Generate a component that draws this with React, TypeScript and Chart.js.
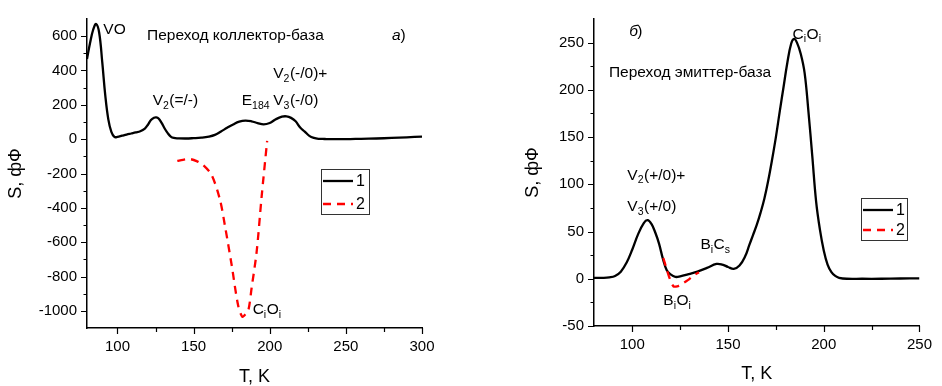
import React, { useEffect, useRef } from 'react';
import { Chart, registerables } from 'chart.js';

Chart.register(...registerables);

const FONT = "'Liberation Sans', Arial, Helvetica, sans-serif";

// ---------- Panel а) : collector-base junction ----------
const leftT1 = [80, 82, 84, 86, 88, 90, 92, 94, 96, 98, 100, 103, 106, 109, 112, 115, 118, 120, 122, 124, 125.5, 127, 129, 131, 133, 135, 137, 140, 145, 150, 155, 160, 164, 168, 172, 176, 180, 184, 188, 192, 196, 200, 204, 208, 211, 214, 217, 220, 223, 226, 229, 232, 236, 240, 250, 260, 270, 280, 290, 300];
const leftS1 = [467, 560, 636, 671, 620, 450, 255, 115, 42, 13, 13, 20, 27, 33, 39, 46, 62, 84, 112, 125, 127, 120, 95, 62, 35, 15, 7, 5, 4, 6, 9, 15, 25, 45, 66, 86, 102, 108, 104, 94, 86, 94, 116, 131, 133, 124, 104, 68, 44, 19, 7, 2, 1, 0, 0, 2, 4, 7, 11, 15];
const leftT2 = [139.3, 143, 147.6, 152, 156.4, 161.9, 167.3, 170.6, 175, 179.3, 182, 184, 186, 188.1, 191.4, 194.7, 198.3];
const leftS2 = [-127, -120, -116, -128, -152, -210, -352, -505, -733, -971, -1034, -1020, -995, -867, -657, -333, -10];
const leftXTicks = [100, 150, 200, 250, 300];
const leftXMinor = [125, 175, 225, 275];
const leftYTicks = [-1000, -800, -600, -400, -200, 0, 200, 400, 600];
const leftYMinor = [-900, -700, -500, -300, -100, 100, 300, 500];

// ---------- Panel б) : emitter-base junction ----------
const rightT1 = [80, 85, 88, 91, 94, 97, 100, 103, 106, 108, 110, 112, 114, 116, 118, 120, 122.5, 125, 129, 134, 139, 144, 147, 150, 153, 156, 159, 161, 163, 165, 167, 169, 171, 173, 175, 177, 179, 181, 183, 184.5, 186, 188, 190, 192, 194, 196, 198, 200, 202, 204, 206, 208, 212, 220, 230, 240, 250];
const rightS1 = [1, 1, 1.5, 3, 7.5, 17, 31, 47, 59, 62, 58, 49, 37, 21, 9, 4.6, 2, 2.5, 4.6, 7.6, 11.5, 15.7, 15, 12.5, 10.5, 14, 24, 35, 46, 57, 70, 85, 104, 126, 150, 177, 203, 229, 249, 254, 250, 238, 218, 177, 130, 82, 52, 30, 15, 7, 3, 1, 0, 0, 0, 0.3, 0.5];
const rightT2 = [116.2, 118, 119.6, 121.5, 123.5, 125.5, 129, 132, 134.8];
const rightS2 = [22, 10, 0, -8, -8, -6, -1.5, 3.5, 7];
const rightXTicks = [100, 150, 200, 250];
const rightXMinor = [125, 175, 225];
const rightYTicks = [-50, 0, 50, 100, 150, 200, 250];
const rightYMinor = [-25, 25, 75, 125, 175, 225];

type Part = [string, boolean?];
type Note = { x: number; y: number; parts: Part[]; italic?: boolean };

const leftNotes: Note[] = [
  { x: 90.7, y: 638, parts: [['VO']] },
  { x: 119.4, y: 600, parts: [['Переход коллектор-база']] },
  { x: 280.3, y: 600, parts: [['а']], italic: true },
  { x: 285.8, y: 600, parts: [[')']] },
  { x: 123.1, y: 223, parts: [['V'], ['2', true], ['(=/-)']] },
  { x: 181.6, y: 223, parts: [['E'], ['184', true]] },
  { x: 202.3, y: 223, parts: [['V'], ['3', true], ['(-/0)']] },
  { x: 202.3, y: 381, parts: [['V'], ['2', true], ['(-/0)+']] },
  { x: 188.8, y: -996, parts: [['C'], ['i', true], ['O'], ['i', true]] },
];

const rightNotes: Note[] = [
  { x: 98.4, y: 261.5, parts: [['б']], italic: true },
  { x: 102.6, y: 261.5, parts: [[')']] },
  { x: 87.8, y: 217.8, parts: [['Переход эмиттер-база']] },
  { x: 183.7, y: 258.7, parts: [['C'], ['i', true], ['O'], ['i', true]] },
  { x: 97.4, y: 109.5, parts: [['V'], ['2', true], ['(+/0)+']] },
  { x: 97.4, y: 76.2, parts: [['V'], ['3', true], ['(+/0)']] },
  { x: 135.6, y: 36, parts: [['B'], ['i', true], ['C'], ['s', true]] },
  { x: 116.2, y: -23.4, parts: [['B'], ['i', true], ['O'], ['i', true]] },
];

type Panel = {
  t1: number[]; s1: number[]; t2: number[]; s2: number[];
  xMin: number; xMax: number; yMin: number; yMax: number;
  xTicks: number[]; xMinor: number[]; yTicks: number[]; yMinor: number[];
  notes: Note[];
  padding: { left: number; right: number; top: number; bottom: number };
  yAxisW: number; xAxisH: number; yTitlePad: number; xTitlePad: number;
  legend: { x: number; y: number; w: number; h: number };
};

function drawRich(ctx: CanvasRenderingContext2D, x: number, y: number, parts: Part[], italic?: boolean) {
  let cx = x;
  ctx.textAlign = 'left';
  ctx.textBaseline = 'middle';
  for (const [t, sub] of parts) {
    ctx.font = `${italic ? 'italic ' : ''}${sub ? 10.5 : 15.5}px ${FONT}`;
    ctx.fillText(t, cx, sub ? y + 5 : y);
    cx += ctx.measureText(t).width + (sub ? 0.5 : 0);
  }
}

function makeConfig(p: Panel): any {
  const ticksPlugin = {
    id: 'minorTicks',
    afterDraw(chart: any) {
      const { ctx, chartArea } = chart;
      const xs = chart.scales.x;
      const ys = chart.scales.y;
      ctx.save();
      ctx.strokeStyle = '#000';
      ctx.lineWidth = 1.2;
      ctx.beginPath();
      p.xTicks.forEach((v) => {
        const px = Math.round(xs.getPixelForValue(v)) + 0.5;
        ctx.moveTo(px, chartArea.bottom);
        ctx.lineTo(px, chartArea.bottom + 6);
      });
      p.xMinor.forEach((v) => {
        const px = Math.round(xs.getPixelForValue(v)) + 0.5;
        ctx.moveTo(px, chartArea.bottom);
        ctx.lineTo(px, chartArea.bottom + 4);
      });
      p.yTicks.forEach((v) => {
        const py = Math.round(ys.getPixelForValue(v)) + 0.5;
        ctx.moveTo(chartArea.left, py);
        ctx.lineTo(chartArea.left - 6, py);
      });
      p.yMinor.forEach((v) => {
        const py = Math.round(ys.getPixelForValue(v)) + 0.5;
        ctx.moveTo(chartArea.left, py);
        ctx.lineTo(chartArea.left - 3.5, py);
      });
      ctx.stroke();
      ctx.restore();
    },
  };

  const notesPlugin = {
    id: 'notes',
    afterDatasetsDraw(chart: any) {
      const { ctx } = chart;
      const xs = chart.scales.x;
      const ys = chart.scales.y;
      ctx.save();
      ctx.fillStyle = '#000';
      p.notes.forEach((n) => {
        drawRich(ctx, xs.getPixelForValue(n.x), ys.getPixelForValue(n.y), n.parts, n.italic);
      });
      ctx.restore();
    },
  };

  const legendPlugin = {
    id: 'boxLegend',
    afterDraw(chart: any) {
      const { ctx } = chart;
      const L = p.legend;
      ctx.save();
      ctx.fillStyle = '#fff';
      ctx.fillRect(L.x, L.y, L.w, L.h);
      ctx.strokeStyle = '#333';
      ctx.lineWidth = 1;
      ctx.strokeRect(L.x + 0.5, L.y + 0.5, L.w, L.h);
      const ds = chart.data.datasets;
      const rowY = [L.y + 12, L.y + L.h - 10];
      ds.forEach((d: any, i: number) => {
        ctx.beginPath();
        ctx.strokeStyle = d.borderColor;
        ctx.lineWidth = 2.3;
        ctx.setLineDash(d.borderDash || []);
        ctx.moveTo(L.x + 2, rowY[i]);
        ctx.lineTo(L.x + 32, rowY[i]);
        ctx.stroke();
        ctx.setLineDash([]);
        ctx.fillStyle = '#000';
        ctx.font = `16px ${FONT}`;
        ctx.textAlign = 'left';
        ctx.textBaseline = 'middle';
        ctx.fillText(d.label, L.x + 35, rowY[i] + 1);
      });
      ctx.restore();
    },
  };

  const tickFont = { size: 15, family: FONT };
  const titleFont = { size: 18, family: FONT, lineHeight: 1 };

  return {
    type: 'line',
    data: {
      datasets: [
        {
          label: '1',
          data: p.t1.map((x, i) => ({ x, y: p.s1[i] })),
          borderColor: '#000000',
          borderWidth: 2.3,
          pointRadius: 0,
          fill: false,
          tension: 0.4,
          order: 1,
        },
        {
          label: '2',
          data: p.t2.map((x, i) => ({ x, y: p.s2[i] })),
          borderColor: '#ff0000',
          borderWidth: 2.3,
          borderDash: [8, 6],
          pointRadius: 0,
          fill: false,
          tension: 0.3,
          order: 0,
        },
      ],
    },
    options: {
      responsive: false,
      animation: false,
      events: [],
      layout: { padding: p.padding },
      plugins: {
        legend: { display: false },
        tooltip: { enabled: false },
        title: { display: false },
      },
      scales: {
        x: {
          type: 'linear',
          min: p.xMin,
          max: p.xMax,
          afterBuildTicks: (s: any) => {
            s.ticks = p.xTicks.map((v) => ({ value: v }));
          },
          afterFit: (s: any) => {
            s.height = p.xAxisH;
          },
          grid: { display: false, drawTicks: false },
          border: { display: true, color: '#000', width: 1.5 },
          ticks: {
            padding: 10,
            font: tickFont,
            color: '#000',
            autoSkip: false,
            maxRotation: 0,
            callback: (v: any) => String(v),
          },
          title: {
            display: true,
            text: 'T, K',
            color: '#000',
            font: titleFont,
            padding: { top: 0, bottom: p.xTitlePad },
          },
        },
        y: {
          type: 'linear',
          min: p.yMin,
          max: p.yMax,
          afterBuildTicks: (s: any) => {
            s.ticks = p.yTicks.map((v) => ({ value: v }));
          },
          afterFit: (s: any) => {
            s.width = p.yAxisW;
          },
          grid: { display: false, drawTicks: false },
          border: { display: true, color: '#000', width: 1.5 },
          ticks: {
            padding: 10,
            font: tickFont,
            color: '#000',
            autoSkip: false,
            callback: (v: any) => String(v),
          },
          title: {
            display: true,
            text: 'S, фФ',
            color: '#000',
            font: titleFont,
            padding: { top: p.yTitlePad, bottom: 0 },
          },
        },
      },
    },
    plugins: [ticksPlugin, notesPlugin, legendPlugin],
  };
}

const leftPanel: Panel = {
  t1: leftT1, s1: leftS1, t2: leftT2, s2: leftS2,
  xMin: 80, xMax: 300, yMin: -1100, yMax: 700,
  xTicks: leftXTicks, xMinor: leftXMinor, yTicks: leftYTicks, yMinor: leftYMinor,
  notes: leftNotes,
  padding: { left: 0, right: 48, top: 12, bottom: 0 },
  yAxisW: 87, xAxisH: 58, yTitlePad: 7, xTitlePad: 0,
  legend: { x: 321, y: 169, w: 48, h: 45 },
};

const rightPanel: Panel = {
  t1: rightT1, s1: rightS1, t2: rightT2, s2: rightS2,
  xMin: 80, xMax: 250, yMin: -50, yMax: 275,
  xTicks: rightXTicks, xMinor: rightXMinor, yTicks: rightYTicks, yMinor: rightYMinor,
  notes: rightNotes,
  padding: { left: 0, right: 14, top: 15, bottom: 0 },
  yAxisW: 124, xAxisH: 60, yTitlePad: 54, xTitlePad: 3,
  legend: { x: 391, y: 198, w: 46, h: 42 },
};

function PanelChart({ panel, left, width }: { panel: Panel; left: number; width: number }) {
  const ref = useRef<HTMLCanvasElement>(null);
  useEffect(() => {
    if (!ref.current) return;
    const chart = new Chart(ref.current, makeConfig(panel));
    return () => chart.destroy();
  }, [panel]);
  return (
    <canvas
      ref={ref}
      width={width}
      height={386}
      style={{ position: 'absolute', left, top: 0, width, height: 386 }}
    />
  );
}

export default function App() {
  return (
    <div
      style={{
        position: 'fixed',
        left: 0,
        top: 0,
        width: 942,
        height: 386,
        background: '#fff',
        overflow: 'hidden',
      }}
    >
      <PanelChart panel={leftPanel} left={0} width={470} />
      <PanelChart panel={rightPanel} left={470} width={472} />
    </div>
  );
}
